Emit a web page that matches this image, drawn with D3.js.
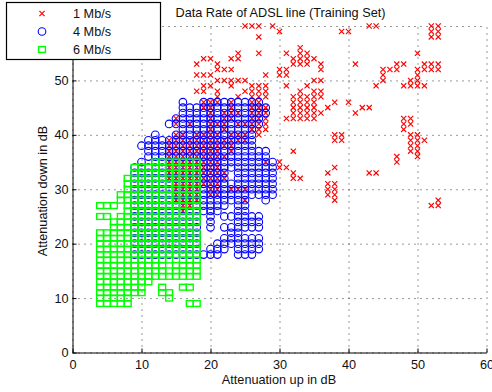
<!DOCTYPE html>
<html>
<head>
<meta charset="utf-8">
<script src="https://d3js.org/d3.v7.min.js"></script>
<style>
    html, body { margin: 0; padding: 0; background: #fff; }
    svg { display: block; }
    text { font-family: "Liberation Sans", Arial, sans-serif; font-size: 12.7px; fill: #111; }
</style>
</head>
<body>
<div id="chart"></div>
<script>
// Axis ticks
const xTicks = [0, 10, 20, 30, 40, 50, 60];
const yTicks = [0, 10, 20, 30, 40, 50, 60];

// Each row is [attenuation down, [attenuation up values]]
const redRows = [
    [60, [25, 26, 27, 29, 43, 44, 52, 53]],
    [59, [30, 39, 40, 52, 53]],
    [58, [27, 52, 53]],
    [56, [33]],
    [55, [24, 27, 31, 33, 34, 50]],
    [54, [19, 20, 23, 24, 32, 33, 34, 35]],
    [53, [18, 21, 32, 33, 34, 36, 41, 47, 48, 51, 52, 53]],
    [52, [21, 22, 23, 30, 31, 36, 45, 46, 47, 50, 51, 52, 53]],
    [51, [18, 19, 20, 28, 30, 31, 45, 50]],
    [50, [21, 22, 23, 24, 25, 35, 36, 45, 49, 50]],
    [49, [19, 20, 23, 26, 27, 28, 31, 34, 44, 48, 49, 50, 51]],
    [48, [18, 19, 21, 25, 26, 27, 28, 33, 35, 36]],
    [47, [21, 24, 26, 27, 28, 32, 33, 34, 35, 36]],
    [46, [19, 20, 21, 23, 26, 27, 32, 33, 34, 35, 38, 40]],
    [45, [19, 20, 23, 26, 27, 28, 32, 33, 34, 35, 37, 42, 43]],
    [44, [20, 22, 23, 24, 26, 27, 28, 32, 33, 34, 35, 36, 41]],
    [43, [15, 20, 22, 23, 26, 27, 28, 31, 32, 33, 34, 35, 48, 49]],
    [42, [15, 17, 20, 21, 22, 24, 25, 26, 27, 28, 48, 49]],
    [41, [20, 22, 26, 27, 28, 48]],
    [40, [15, 16, 18, 19, 20, 21, 23, 24, 25, 27, 38, 39, 49, 50]],
    [39, [14, 15, 16, 17, 18, 19, 20, 21, 22, 23, 24, 25, 38, 39, 49, 50, 51]],
    [38, [14, 15, 16, 17, 18, 19, 20, 21, 22, 23, 49, 50]],
    [37, [14, 15, 16, 17, 18, 19, 20, 21, 23, 32, 49, 50]],
    [36, [14, 15, 16, 17, 18, 19, 20, 21, 22, 47, 50]],
    [35, [14, 15, 16, 17, 18, 19, 20, 21, 28, 30, 47]],
    [34, [14, 15, 16, 17, 18, 19, 20, 21, 30, 31, 38]],
    [33, [14, 15, 16, 17, 18, 19, 20, 21, 22, 32, 37, 43, 44]],
    [32, [14, 15, 16, 17, 18, 19, 20, 21, 22, 32, 33]],
    [31, [15, 16, 17, 18, 19, 20, 21, 37, 38]],
    [30, [15, 16, 17, 18, 20, 21, 23, 24, 25, 37, 38]],
    [29, [15, 16, 17, 18, 20, 21, 37, 38]],
    [28, [15, 16, 17, 18, 25, 38, 53]],
    [27, [16, 17, 52, 53]],
    [26, [16]]
];

const blueRows = [
    [46, [16, 19, 20, 21, 22, 23, 24, 25, 26, 27]],
    [45, [16, 17, 18, 19, 20, 21, 22, 23, 24, 25, 26, 27, 28]],
    [44, [16, 17, 18, 19, 20, 21, 22, 23, 24, 25, 26, 27, 28]],
    [43, [15, 16, 17, 18, 19, 20, 21, 22, 23, 24, 25, 26, 27]],
    [42, [14, 15, 16, 17, 18, 19, 20, 21, 22, 23, 24, 25, 26, 27]],
    [41, [16, 17, 18, 19, 20, 21, 22, 23, 24, 25, 26]],
    [40, [12, 15, 16, 17, 18, 19, 20, 21, 22, 23, 24, 25, 26]],
    [39, [11, 12, 13, 14, 15, 16, 17, 18, 19, 20, 21, 22, 23, 24, 25, 26]],
    [38, [10, 11, 12, 13, 14, 15, 16, 17, 18, 19, 20, 21, 22, 23, 24, 25, 26]],
    [37, [11, 12, 13, 14, 15, 16, 17, 18, 19, 20, 21, 22, 23, 24, 25, 26, 27, 28]],
    [36, [11, 12, 13, 14, 15, 16, 17, 18, 19, 20, 21, 22, 23, 24, 25, 26, 27, 28]],
    [35, [10, 12, 13, 14, 15, 16, 17, 18, 19, 20, 21, 22, 23, 24, 25, 26, 27, 28, 29]],
    [34, [9, 10, 11, 12, 13, 14, 15, 16, 17, 18, 19, 20, 21, 22, 23, 24, 25, 26, 27, 28, 29]],
    [33, [9, 10, 11, 12, 13, 14, 15, 16, 17, 18, 19, 20, 21, 22, 24, 25, 26, 27, 28, 29]],
    [32, [9, 10, 11, 12, 13, 14, 15, 16, 17, 18, 19, 20, 21, 22, 24, 25, 26, 27, 28, 29]],
    [31, [9, 10, 11, 12, 13, 14, 15, 16, 17, 18, 19, 20, 21, 22, 23, 24, 25, 26, 27, 28, 29]],
    [30, [9, 10, 11, 12, 13, 14, 15, 16, 17, 18, 19, 20, 21, 22, 23, 24, 25, 26, 27, 28, 29]],
    [29, [9, 10, 11, 12, 13, 14, 15, 16, 17, 18, 19, 20, 21, 22, 23, 24, 25, 26, 27, 28, 29]],
    [28, [9, 10, 11, 12, 13, 14, 15, 16, 17, 18, 19, 20, 21, 22, 23, 24, 25, 28]],
    [27, [9, 10, 11, 12, 13, 14, 15, 16, 17, 18, 19, 20, 21, 22, 24, 25]],
    [26, [9, 10, 11, 12, 13, 14, 15, 16, 17, 18, 19, 20, 21, 24, 25]],
    [25, [9, 10, 11, 12, 13, 14, 15, 16, 17, 18, 20, 22, 23, 24, 25, 26, 27]],
    [24, [9, 10, 11, 12, 13, 14, 15, 16, 17, 18, 20, 24, 25, 26, 27]],
    [23, [9, 10, 11, 12, 13, 14, 15, 16, 17, 18, 20, 22, 23, 24, 25, 26, 27]],
    [22, [9, 10, 11, 12, 13, 14, 15, 16, 17, 18, 23, 24]],
    [21, [9, 10, 11, 12, 13, 14, 15, 16, 17, 18, 22, 23, 24, 25, 26, 27]],
    [20, [9, 10, 11, 12, 13, 14, 15, 16, 17, 18, 21, 22, 23, 24, 25, 26, 27]],
    [19, [9, 10, 11, 12, 13, 14, 15, 16, 17, 18, 20, 21, 22, 24, 25, 26, 27]],
    [18, [9, 10, 11, 12, 13, 14, 15, 16, 17, 18, 19, 20, 21, 24, 25, 26]]
];

const greenRows = [
    [35, [12, 13, 14, 15, 16, 17, 18]],
    [34, [9, 10, 11, 12, 13, 14, 15, 16, 17, 18]],
    [33, [9, 10, 11, 12, 13, 14, 15, 16, 17, 18]],
    [32, [8, 9, 10, 11, 12, 13, 14, 15, 16, 17, 18]],
    [31, [8, 9, 10, 11, 12, 13, 14, 15, 16, 17, 18]],
    [30, [8, 9, 10, 11, 12, 13, 14, 15, 16, 17, 18]],
    [29, [7, 8, 9, 10, 11, 12, 13, 14, 15, 16, 17, 18]],
    [28, [7, 8, 9, 10, 11, 12, 13, 14, 15, 16, 17, 18]],
    [27, [4, 5, 6, 8, 9, 10, 11, 12, 13, 14, 15, 16, 17, 18]],
    [26, [8, 9, 10, 11, 12, 13, 14, 15, 16, 17, 18]],
    [25, [4, 5, 7, 8, 9, 10, 11, 12, 13, 14, 15, 16, 17, 18]],
    [24, [6, 7, 8, 9, 10, 11, 12, 13, 14, 15, 16, 17, 18]],
    [23, [6, 7, 8, 9, 10, 11, 12, 13, 14, 15, 16, 17]],
    [22, [4, 5, 6, 7, 8, 9, 10, 11, 12, 13, 14, 15, 16, 17, 18]],
    [21, [4, 5, 6, 7, 8, 9, 10, 11, 12, 13, 14, 15, 16, 17, 18]],
    [20, [4, 5, 6, 7, 8, 9, 10, 11, 12, 13, 14, 15, 16, 17, 18]],
    [19, [4, 5, 6, 7, 8, 9, 10, 11, 12, 13, 14, 15, 16, 17, 18]],
    [18, [4, 5, 6, 7, 8, 9, 10, 11, 12, 13, 14, 15, 16, 17, 18]],
    [17, [4, 5, 6, 7, 8, 9, 10, 11, 12, 13, 14, 16, 17, 18]],
    [16, [4, 5, 6, 7, 8, 9, 10, 11, 12, 13, 15, 16, 17, 18]],
    [15, [4, 5, 6, 7, 8, 9, 10, 11, 12, 13, 14, 15, 16, 17, 18]],
    [14, [4, 5, 6, 7, 8, 9, 10, 11, 12, 13, 14, 15, 16, 17, 18]],
    [13, [4, 5, 6, 7, 8, 9, 10, 11]],
    [12, [4, 5, 6, 7, 8, 9, 10, 13, 16, 17]],
    [11, [4, 5, 6, 7, 8, 9, 10, 13, 14]],
    [10, [4, 5, 6, 7, 8, 14]],
    [9, [4, 5, 6, 7, 8, 17, 18]]
];

// Set up SVG dimensions
const totalWidth = 492;
const totalHeight = 392;
const margin = { top: 26, right: 5.5, bottom: 39.5, left: 72.5 };
const width = totalWidth - margin.left - margin.right;
const height = totalHeight - margin.top - margin.bottom;

const svg = d3.select("#chart")
    .append("svg")
    .attr("width", totalWidth)
    .attr("height", totalHeight);

const plot = svg.append("g")
    .attr("transform", `translate(${margin.left},${margin.top})`);

const xScale = d3.scaleLinear().domain([0, 60]).range([0, width]);
const yScale = d3.scaleLinear().domain([0, 60]).range([height, 0]);

// Dotted grid
const xGrid = plot.append("g")
    .attr("transform", `translate(0,${height})`)
    .call(d3.axisBottom(xScale).tickValues(xTicks).tickSize(-height).tickFormat(""));
const yGrid = plot.append("g")
    .call(d3.axisLeft(yScale).tickValues(yTicks).tickSize(-width).tickFormat(""));
[xGrid, yGrid].forEach(g => {
    g.select(".domain").remove();
    g.selectAll("line")
        .attr("stroke", "#333")
        .attr("stroke-dasharray", "1,5");
});

// Flatten a table of rows into {x, y} points
function rowsToPoints(rows) {
    return rows.flatMap(([down, ups]) => ups.map(up => ({ x: up, y: down })));
}

// Marker drawers, all centred on 0,0
function drawCross(sel, color) {
    sel.append("path")
        .attr("d", "M-2.6,-2.6L2.6,2.6M-2.6,2.6L2.6,-2.6")
        .attr("fill", "none")
        .attr("stroke", color)
        .attr("stroke-width", 1.15);
}
function drawCircle(sel, color) {
    sel.append("circle")
        .attr("r", 3.8)
        .attr("fill", "none")
        .attr("stroke", color)
        .attr("stroke-width", 1.1);
}
function drawSquare(sel, color) {
    sel.append("rect")
        .attr("x", -3.45)
        .attr("y", -2.9)
        .attr("width", 6.9)
        .attr("height", 5.8)
        .attr("fill", "none")
        .attr("stroke", color)
        .attr("stroke-width", 1.4);
}

const seriesList = [
    { name: "1 Mb/s", rows: redRows, color: "#ff0000", draw: drawCross },
    { name: "4 Mb/s", rows: blueRows, color: "#0000ff", draw: drawCircle },
    { name: "6 Mb/s", rows: greenRows, color: "#00ff00", draw: drawSquare }
];

// Scatter markers, later series on top
seriesList.forEach(series => {
    const marks = plot.append("g")
        .selectAll("g")
        .data(rowsToPoints(series.rows))
        .join("g")
        .attr("transform", d => `translate(${xScale(d.x)},${yScale(d.y)})`);
    series.draw(marks, series.color);
});

// Axes with inward ticks
const xAxis = plot.append("g")
    .attr("transform", `translate(0,${height})`)
    .call(d3.axisBottom(xScale).tickValues(xTicks).tickSizeInner(-4).tickSizeOuter(0).tickPadding(7));
const yAxis = plot.append("g")
    .call(d3.axisLeft(yScale).tickValues(yTicks).tickSizeInner(-4).tickSizeOuter(0).tickPadding(4));
[xAxis, yAxis].forEach(g => {
    g.selectAll("text")
        .style("font-family", '"Liberation Sans", Arial, sans-serif')
        .style("font-size", "12.7px")
        .attr("fill", "#111");
    g.selectAll("line").attr("stroke", "#000");
    g.select(".domain").attr("stroke", "#000").attr("stroke-width", 1);
});

// Title and axis labels
svg.append("text")
    .attr("x", 280.5)
    .attr("y", 17)
    .attr("text-anchor", "middle")
    .text("Data Rate of ADSL line (Training Set)");
svg.append("text")
    .attr("x", 279)
    .attr("y", 384)
    .attr("text-anchor", "middle")
    .text("Attenuation up in dB");
svg.append("text")
    .attr("transform", "rotate(-90)")
    .attr("x", -191)
    .attr("y", 47)
    .attr("text-anchor", "middle")
    .text("Attenuation down in dB");

// Legend box over the top left of the plot
const legend = svg.append("g");
legend.append("rect")
    .attr("x", 6.5)
    .attr("y", 2.5)
    .attr("width", 154)
    .attr("height", 57)
    .attr("fill", "#fff")
    .attr("stroke", "#000")
    .attr("stroke-width", 1.2);
const legendRowY = d3.scalePoint()
    .domain(seriesList.map(d => d.name))
    .range([13.5, 49.5]);
seriesList.forEach(series => {
    const row = legend.append("g")
        .attr("transform", `translate(42,${legendRowY(series.name)})`);
    series.draw(row, series.color);
    row.append("text")
        .attr("x", 31)
        .attr("y", 4.5)
        .text(series.name);
});
</script>
</body>
</html>
